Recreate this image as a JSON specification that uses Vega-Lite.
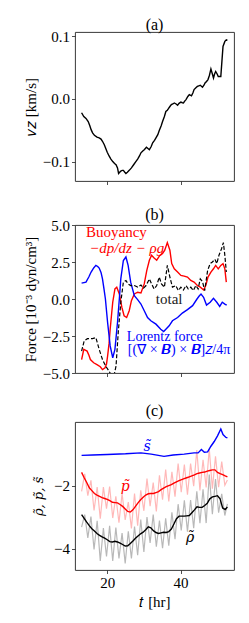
{
"$schema": "https://vega.github.io/schema/vega-lite/v6.json",
"padding": {"left": 22, "top": 16, "right": 4, "bottom": 4},
"spacing": 20,
"config": {
  "font": "Liberation Serif",
  "view": {"stroke": "#222222", "strokeWidth": 0.9},
  "axis": {"domain": false, "grid": false, "tickColor": "#222222", "tickSize": 3.5, "tickWidth": 0.8, "labelColor": "black", "labelFontSize": 15, "labelFont": "Liberation Serif", "titleFont": "Liberation Serif", "titleFontSize": 15, "titleFontWeight": "normal", "titleColor": "black", "labelPadding": 2, "titlePadding": 4},
  "title": {"font": "Liberation Serif", "fontSize": 16, "fontWeight": "normal", "color": "black", "offset": 0, "frame": "group"}
},
"datasets": {
  "vz": [
    {"t":13.0,"v":-0.022},{"t":13.6,"v":-0.028},{"t":14.2,"v":-0.031},{"t":14.8,"v":-0.036},{"t":15.2,"v":-0.042},{"t":15.6,"v":-0.049},{"t":16.0,"v":-0.054},{"t":16.5,"v":-0.058},{"t":17.2,"v":-0.061},{"t":17.8,"v":-0.062},{"t":18.3,"v":-0.064},{"t":18.7,"v":-0.0675},{"t":19.2,"v":-0.073},{"t":19.6,"v":-0.079},{"t":20.0,"v":-0.085},{"t":20.5,"v":-0.091},{"t":21.0,"v":-0.096},{"t":21.5,"v":-0.100},{"t":22.0,"v":-0.103},{"t":22.4,"v":-0.105},{"t":22.8,"v":-0.110},{"t":23.1,"v":-0.119},{"t":23.4,"v":-0.117},{"t":23.7,"v":-0.115},{"t":24.1,"v":-0.114},{"t":24.4,"v":-0.114},{"t":24.8,"v":-0.117},{"t":25.1,"v":-0.119},{"t":25.5,"v":-0.117},{"t":26.0,"v":-0.114},{"t":26.6,"v":-0.110},{"t":27.2,"v":-0.105},{"t":27.8,"v":-0.100},{"t":28.3,"v":-0.096},{"t":28.8,"v":-0.091},{"t":29.2,"v":-0.086},{"t":29.7,"v":-0.083},{"t":30.1,"v":-0.081},{"t":30.7,"v":-0.077},{"t":31.1,"v":-0.079},{"t":31.5,"v":-0.081},{"t":32.0,"v":-0.076},{"t":32.4,"v":-0.070},{"t":32.9,"v":-0.066},{"t":33.3,"v":-0.062},{"t":33.8,"v":-0.057},{"t":34.2,"v":-0.0505},{"t":34.7,"v":-0.043},{"t":35.1,"v":-0.036},{"t":35.6,"v":-0.028},{"t":36.0,"v":-0.020},{"t":36.4,"v":-0.018},{"t":36.7,"v":-0.0155},{"t":37.1,"v":-0.012},{"t":37.5,"v":-0.009},{"t":37.9,"v":-0.008},{"t":38.3,"v":-0.0064},{"t":38.8,"v":-0.008},{"t":39.2,"v":-0.010},{"t":39.6,"v":-0.007},{"t":40.1,"v":-0.005},{"t":40.5,"v":-0.006},{"t":40.8,"v":-0.0064},{"t":41.2,"v":-0.003},{"t":41.5,"v":-0.001},{"t":42.0,"v":0.004},{"t":42.4,"v":0.007},{"t":43.0,"v":0.005},{"t":43.4,"v":0.010},{"t":43.7,"v":0.015},{"t":44.2,"v":0.018},{"t":44.6,"v":0.020},{"t":45.0,"v":0.021},{"t":45.4,"v":0.022},{"t":46.0,"v":0.0187},{"t":46.4,"v":0.022},{"t":46.7,"v":0.0255},{"t":47.1,"v":0.028},{"t":47.5,"v":0.031},{"t":47.9,"v":0.038},{"t":48.3,"v":0.048},{"t":48.7,"v":0.040},{"t":49.0,"v":0.0335},{"t":49.3,"v":0.040},{"t":49.6,"v":0.044},{"t":50.0,"v":0.040},{"t":50.3,"v":0.036},{"t":50.7,"v":0.036},{"t":51.0,"v":0.036},{"t":51.3,"v":0.060},{"t":51.6,"v":0.084},{"t":52.1,"v":0.092},{"t":52.5,"v":0.0946},{"t":52.8,"v":0.0936}
  ],
  "force": [
    {"t":13.0,"F":-4.09,"s":"buoyancy"},{"t":13.6,"F":-3.4,"s":"buoyancy"},{"t":14.0,"F":-3.45,"s":"buoyancy"},{"t":14.5,"F":-3.52,"s":"buoyancy"},{"t":15.0,"F":-3.8,"s":"buoyancy"},{"t":15.4,"F":-4.09,"s":"buoyancy"},{"t":16.3,"F":-4.31,"s":"buoyancy"},{"t":17.2,"F":-4.43,"s":"buoyancy"},{"t":18.1,"F":-4.58,"s":"buoyancy"},{"t":18.7,"F":-4.77,"s":"buoyancy"},{"t":19.4,"F":-4.65,"s":"buoyancy"},{"t":19.8,"F":-4.4,"s":"buoyancy"},{"t":20.1,"F":-3.85,"s":"buoyancy"},{"t":20.5,"F":-3.0,"s":"buoyancy"},{"t":20.8,"F":-2.04,"s":"buoyancy"},{"t":21.2,"F":-1.0,"s":"buoyancy"},{"t":21.5,"F":-0.22,"s":"buoyancy"},{"t":22.1,"F":0.68,"s":"buoyancy"},{"t":22.6,"F":0.8,"s":"buoyancy"},{"t":23.3,"F":0.34,"s":"buoyancy"},{"t":24.0,"F":-0.57,"s":"buoyancy"},{"t":24.6,"F":-1.13,"s":"buoyancy"},{"t":25.3,"F":-1.25,"s":"buoyancy"},{"t":26.0,"F":-0.79,"s":"buoyancy"},{"t":26.6,"F":-0.11,"s":"buoyancy"},{"t":27.4,"F":0.34,"s":"buoyancy"},{"t":28.3,"F":0.46,"s":"buoyancy"},{"t":29.2,"F":0.41,"s":"buoyancy"},{"t":30.1,"F":1.02,"s":"buoyancy"},{"t":30.8,"F":1.93,"s":"buoyancy"},{"t":31.5,"F":2.62,"s":"buoyancy"},{"t":32.1,"F":2.96,"s":"buoyancy"},{"t":32.8,"F":2.77,"s":"buoyancy"},{"t":33.5,"F":2.62,"s":"buoyancy"},{"t":34.4,"F":2.96,"s":"buoyancy"},{"t":35.1,"F":3.07,"s":"buoyancy"},{"t":35.7,"F":3.3,"s":"buoyancy"},{"t":36.4,"F":3.81,"s":"buoyancy"},{"t":37.1,"F":3.3,"s":"buoyancy"},{"t":37.6,"F":2.39,"s":"buoyancy"},{"t":38.3,"F":2.04,"s":"buoyancy"},{"t":39.2,"F":1.82,"s":"buoyancy"},{"t":40.1,"F":1.59,"s":"buoyancy"},{"t":41.0,"F":1.55,"s":"buoyancy"},{"t":41.9,"F":1.48,"s":"buoyancy"},{"t":42.8,"F":1.25,"s":"buoyancy"},{"t":43.7,"F":1.14,"s":"buoyancy"},{"t":44.6,"F":0.91,"s":"buoyancy"},{"t":45.4,"F":0.8,"s":"buoyancy"},{"t":46.3,"F":0.61,"s":"buoyancy"},{"t":46.9,"F":0.91,"s":"buoyancy"},{"t":47.5,"F":1.48,"s":"buoyancy"},{"t":48.3,"F":1.82,"s":"buoyancy"},{"t":49.0,"F":2.04,"s":"buoyancy"},{"t":49.6,"F":2.27,"s":"buoyancy"},{"t":50.3,"F":2.04,"s":"buoyancy"},{"t":51.0,"F":2.27,"s":"buoyancy"},{"t":51.6,"F":2.39,"s":"buoyancy"},{"t":52.1,"F":2.04,"s":"buoyancy"},{"t":52.5,"F":1.14,"s":"buoyancy"},
    {"t":13.0,"F":1.07,"s":"lorentz"},{"t":14.2,"F":1.14,"s":"lorentz"},{"t":15.0,"F":1.5,"s":"lorentz"},{"t":15.6,"F":1.82,"s":"lorentz"},{"t":16.3,"F":2.1,"s":"lorentz"},{"t":16.9,"F":2.27,"s":"lorentz"},{"t":17.4,"F":2.2,"s":"lorentz"},{"t":17.8,"F":2.09,"s":"lorentz"},{"t":18.3,"F":1.8,"s":"lorentz"},{"t":18.7,"F":1.36,"s":"lorentz"},{"t":19.1,"F":0.7,"s":"lorentz"},{"t":19.5,"F":0.0,"s":"lorentz"},{"t":20.1,"F":-1.59,"s":"lorentz"},{"t":20.8,"F":-3.17,"s":"lorentz"},{"t":21.5,"F":-3.97,"s":"lorentz"},{"t":22.1,"F":-3.4,"s":"lorentz"},{"t":22.8,"F":-1.59,"s":"lorentz"},{"t":23.3,"F":0.0,"s":"lorentz"},{"t":23.7,"F":1.36,"s":"lorentz"},{"t":24.4,"F":2.6,"s":"lorentz"},{"t":25.1,"F":2.84,"s":"lorentz"},{"t":25.7,"F":2.27,"s":"lorentz"},{"t":26.4,"F":1.14,"s":"lorentz"},{"t":27.4,"F":0.23,"s":"lorentz"},{"t":28.3,"F":-0.04,"s":"lorentz"},{"t":29.2,"F":-0.34,"s":"lorentz"},{"t":30.1,"F":-0.79,"s":"lorentz"},{"t":31.0,"F":-1.25,"s":"lorentz"},{"t":31.9,"F":-1.47,"s":"lorentz"},{"t":33.3,"F":-1.7,"s":"lorentz"},{"t":34.6,"F":-2.04,"s":"lorentz"},{"t":35.4,"F":-2.2,"s":"lorentz"},{"t":36.0,"F":-2.04,"s":"lorentz"},{"t":36.9,"F":-1.81,"s":"lorentz"},{"t":37.8,"F":-1.47,"s":"lorentz"},{"t":39.2,"F":-1.25,"s":"lorentz"},{"t":40.5,"F":-0.95,"s":"lorentz"},{"t":41.9,"F":-0.72,"s":"lorentz"},{"t":43.3,"F":-0.45,"s":"lorentz"},{"t":44.5,"F":0.0,"s":"lorentz"},{"t":45.1,"F":0.2,"s":"lorentz"},{"t":45.6,"F":0.34,"s":"lorentz"},{"t":46.3,"F":0.12,"s":"lorentz"},{"t":47.1,"F":-0.41,"s":"lorentz"},{"t":48.1,"F":-0.22,"s":"lorentz"},{"t":49.0,"F":0.05,"s":"lorentz"},{"t":49.9,"F":-0.22,"s":"lorentz"},{"t":50.7,"F":-0.5,"s":"lorentz"},{"t":51.4,"F":-0.22,"s":"lorentz"},{"t":52.1,"F":-0.34,"s":"lorentz"},{"t":52.6,"F":-0.41,"s":"lorentz"},
    {"t":13.0,"F":-3.52,"s":"total"},{"t":13.7,"F":-2.84,"s":"total"},{"t":14.6,"F":-2.68,"s":"total"},{"t":16.0,"F":-2.68,"s":"total"},{"t":16.9,"F":-2.61,"s":"total"},{"t":17.8,"F":-3.4,"s":"total"},{"t":18.7,"F":-4.09,"s":"total"},{"t":19.6,"F":-4.54,"s":"total"},{"t":20.5,"F":-4.88,"s":"total"},{"t":21.0,"F":-5.1,"s":"total"},{"t":21.5,"F":-5.2,"s":"total"},{"t":21.9,"F":-5.1,"s":"total"},{"t":22.4,"F":-4.54,"s":"total"},{"t":23.0,"F":-2.27,"s":"total"},{"t":23.7,"F":-0.22,"s":"total"},{"t":24.4,"F":1.14,"s":"total"},{"t":25.1,"F":1.25,"s":"total"},{"t":25.7,"F":1.02,"s":"total"},{"t":26.4,"F":0.91,"s":"total"},{"t":27.4,"F":0.91,"s":"total"},{"t":28.3,"F":0.8,"s":"total"},{"t":29.2,"F":0.95,"s":"total"},{"t":29.9,"F":0.73,"s":"total"},{"t":30.6,"F":0.91,"s":"total"},{"t":31.5,"F":1.36,"s":"total"},{"t":32.1,"F":1.02,"s":"total"},{"t":32.8,"F":0.68,"s":"total"},{"t":33.5,"F":0.91,"s":"total"},{"t":34.2,"F":1.48,"s":"total"},{"t":34.8,"F":1.02,"s":"total"},{"t":35.6,"F":0.8,"s":"total"},{"t":36.4,"F":2.27,"s":"total"},{"t":37.1,"F":1.48,"s":"total"},{"t":37.8,"F":0.8,"s":"total"},{"t":38.7,"F":0.91,"s":"total"},{"t":39.4,"F":0.57,"s":"total"},{"t":40.1,"F":0.8,"s":"total"},{"t":40.8,"F":0.61,"s":"total"},{"t":41.5,"F":0.91,"s":"total"},{"t":42.1,"F":0.68,"s":"total"},{"t":42.8,"F":0.8,"s":"total"},{"t":43.5,"F":0.57,"s":"total"},{"t":44.2,"F":0.91,"s":"total"},{"t":44.8,"F":0.68,"s":"total"},{"t":45.4,"F":1.36,"s":"total"},{"t":46.0,"F":1.18,"s":"total"},{"t":46.6,"F":0.57,"s":"total"},{"t":47.4,"F":1.93,"s":"total"},{"t":48.1,"F":2.39,"s":"total"},{"t":48.7,"F":2.5,"s":"total"},{"t":49.4,"F":2.68,"s":"total"},{"t":49.9,"F":2.39,"s":"total"},{"t":50.5,"F":2.96,"s":"total"},{"t":51.2,"F":3.4,"s":"total"},{"t":51.7,"F":3.81,"s":"total"},{"t":52.1,"F":2.96,"s":"total"},{"t":52.5,"F":1.82,"s":"total"}
  ],
  "forceLabels": [
    {"t":22.5,"F":4.5,"label":"Buoyancy"},
    {"t":25.3,"F":3.45,"label":"−dp/dz − ρg"},
    {"t":36.9,"F":0.0,"label":"total"},
    {"t":35.7,"F":-2.54,"label":"Lorentz force"},
    {"t":39.6,"F":-3.47,"label":"[(∇ × 𝑩) × 𝑩]𝑧/4π"}
  ],
  "profileLabels": [
    {"t":30.9,"v":-0.76,"label":"s̃"},
    {"t":24.9,"v":-2.06,"label":"p̃"},
    {"t":42.6,"v":-3.65,"label":"ρ̃"}
  ],
  "profiles": [
    {"t":13.0,"v":-1.04,"s":"s"},{"t":16.0,"v":-1.03,"s":"s"},{"t":20.0,"v":-1.01,"s":"s"},{"t":25.0,"v":-0.99,"s":"s"},{"t":29.2,"v":-0.96,"s":"s"},{"t":32.0,"v":-1.0,"s":"s"},{"t":35.5,"v":-1.07,"s":"s"},{"t":38.0,"v":-1.03,"s":"s"},{"t":41.0,"v":-1.0,"s":"s"},{"t":43.7,"v":-0.96,"s":"s"},{"t":44.8,"v":-0.96,"s":"s"},{"t":45.7,"v":-0.85,"s":"s"},{"t":46.5,"v":-0.94,"s":"s"},{"t":47.4,"v":-0.93,"s":"s"},{"t":48.3,"v":-0.75,"s":"s"},{"t":49.2,"v":-0.6,"s":"s"},{"t":50.1,"v":-0.42,"s":"s"},{"t":51.0,"v":-0.2,"s":"s"},{"t":51.6,"v":-0.38,"s":"s"},{"t":52.4,"v":-0.47,"s":"s"},{"t":52.8,"v":-0.48,"s":"s"},
    {"t":13.0,"v":-2.18,"s":"p_raw"},{"t":13.85,"v":-1.63,"s":"p_raw"},{"t":14.7,"v":-2.32,"s":"p_raw"},{"t":15.55,"v":-1.83,"s":"p_raw"},{"t":16.4,"v":-2.79,"s":"p_raw"},{"t":17.25,"v":-2.05,"s":"p_raw"},{"t":18.1,"v":-3.05,"s":"p_raw"},{"t":18.95,"v":-2.05,"s":"p_raw"},{"t":19.8,"v":-2.73,"s":"p_raw"},{"t":20.65,"v":-2.03,"s":"p_raw"},{"t":21.5,"v":-3.03,"s":"p_raw"},{"t":22.35,"v":-2.34,"s":"p_raw"},{"t":23.2,"v":-3.18,"s":"p_raw"},{"t":24.05,"v":-2.25,"s":"p_raw"},{"t":24.9,"v":-3.09,"s":"p_raw"},{"t":25.75,"v":-2.52,"s":"p_raw"},{"t":26.6,"v":-3.36,"s":"p_raw"},{"t":27.45,"v":-2.25,"s":"p_raw"},{"t":28.3,"v":-3.27,"s":"p_raw"},{"t":29.15,"v":-2.15,"s":"p_raw"},{"t":30.0,"v":-2.80,"s":"p_raw"},{"t":30.85,"v":-1.78,"s":"p_raw"},{"t":31.7,"v":-2.65,"s":"p_raw"},{"t":32.55,"v":-1.90,"s":"p_raw"},{"t":33.4,"v":-2.82,"s":"p_raw"},{"t":34.25,"v":-1.67,"s":"p_raw"},{"t":35.1,"v":-2.45,"s":"p_raw"},{"t":35.95,"v":-1.49,"s":"p_raw"},{"t":36.8,"v":-2.50,"s":"p_raw"},{"t":37.65,"v":-1.56,"s":"p_raw"},{"t":38.5,"v":-2.35,"s":"p_raw"},{"t":39.35,"v":-1.30,"s":"p_raw"},{"t":40.2,"v":-2.21,"s":"p_raw"},{"t":41.05,"v":-1.33,"s":"p_raw"},{"t":41.9,"v":-2.29,"s":"p_raw"},{"t":42.75,"v":-1.30,"s":"p_raw"},{"t":43.6,"v":-2.02,"s":"p_raw"},{"t":44.45,"v":-0.87,"s":"p_raw"},{"t":45.3,"v":-2.15,"s":"p_raw"},{"t":46.15,"v":-1.18,"s":"p_raw"},{"t":47.0,"v":-2.06,"s":"p_raw"},{"t":47.85,"v":-0.83,"s":"p_raw"},{"t":48.7,"v":-2.10,"s":"p_raw"},{"t":49.55,"v":-1.07,"s":"p_raw"},{"t":50.4,"v":-2.05,"s":"p_raw"},{"t":51.25,"v":-1.24,"s":"p_raw"},{"t":52.1,"v":-1.99,"s":"p_raw"},{"t":52.8,"v":-1.82,"s":"p_raw"},
    {"t":13.0,"v":-3.32,"s":"rho_raw"},{"t":13.85,"v":-2.92,"s":"rho_raw"},{"t":14.7,"v":-3.66,"s":"rho_raw"},{"t":15.55,"v":-2.98,"s":"rho_raw"},{"t":16.4,"v":-4.03,"s":"rho_raw"},{"t":17.25,"v":-3.12,"s":"rho_raw"},{"t":18.1,"v":-4.39,"s":"rho_raw"},{"t":18.95,"v":-3.35,"s":"rho_raw"},{"t":19.8,"v":-4.25,"s":"rho_raw"},{"t":20.65,"v":-3.28,"s":"rho_raw"},{"t":21.5,"v":-4.39,"s":"rho_raw"},{"t":22.35,"v":-3.33,"s":"rho_raw"},{"t":23.2,"v":-4.31,"s":"rho_raw"},{"t":24.05,"v":-3.51,"s":"rho_raw"},{"t":24.9,"v":-4.47,"s":"rho_raw"},{"t":25.75,"v":-3.45,"s":"rho_raw"},{"t":26.6,"v":-4.31,"s":"rho_raw"},{"t":27.45,"v":-3.30,"s":"rho_raw"},{"t":28.3,"v":-4.21,"s":"rho_raw"},{"t":29.15,"v":-3.08,"s":"rho_raw"},{"t":30.0,"v":-4.11,"s":"rho_raw"},{"t":30.85,"v":-3.00,"s":"rho_raw"},{"t":31.7,"v":-3.82,"s":"rho_raw"},{"t":32.55,"v":-2.92,"s":"rho_raw"},{"t":33.4,"v":-3.94,"s":"rho_raw"},{"t":34.25,"v":-3.11,"s":"rho_raw"},{"t":35.1,"v":-3.99,"s":"rho_raw"},{"t":35.95,"v":-3.04,"s":"rho_raw"},{"t":36.8,"v":-3.91,"s":"rho_raw"},{"t":37.65,"v":-2.85,"s":"rho_raw"},{"t":38.5,"v":-3.70,"s":"rho_raw"},{"t":39.35,"v":-2.59,"s":"rho_raw"},{"t":40.2,"v":-3.42,"s":"rho_raw"},{"t":41.05,"v":-2.47,"s":"rho_raw"},{"t":41.9,"v":-3.46,"s":"rho_raw"},{"t":42.75,"v":-2.46,"s":"rho_raw"},{"t":43.6,"v":-3.35,"s":"rho_raw"},{"t":44.45,"v":-2.18,"s":"rho_raw"},{"t":45.3,"v":-3.19,"s":"rho_raw"},{"t":46.15,"v":-2.12,"s":"rho_raw"},{"t":47.0,"v":-3.19,"s":"rho_raw"},{"t":47.85,"v":-1.65,"s":"rho_raw"},{"t":48.7,"v":-2.91,"s":"rho_raw"},{"t":49.55,"v":-1.79,"s":"rho_raw"},{"t":50.4,"v":-2.86,"s":"rho_raw"},{"t":51.25,"v":-2.26,"s":"rho_raw"},{"t":52.1,"v":-2.95,"s":"rho_raw"},{"t":52.8,"v":-2.58,"s":"rho_raw"},
    {"t":13.0,"v":-1.58,"s":"p"},{"t":13.7,"v":-1.75,"s":"p"},{"t":14.4,"v":-1.9,"s":"p"},{"t":15.1,"v":-2.07,"s":"p"},{"t":15.8,"v":-2.16,"s":"p"},{"t":16.5,"v":-2.25,"s":"p"},{"t":17.2,"v":-2.3,"s":"p"},{"t":17.9,"v":-2.34,"s":"p"},{"t":18.6,"v":-2.38,"s":"p"},{"t":19.3,"v":-2.41,"s":"p"},{"t":20.0,"v":-2.44,"s":"p"},{"t":20.7,"v":-2.48,"s":"p"},{"t":21.4,"v":-2.53,"s":"p"},{"t":22.1,"v":-2.54,"s":"p"},{"t":22.8,"v":-2.55,"s":"p"},{"t":23.5,"v":-2.6,"s":"p"},{"t":24.2,"v":-2.66,"s":"p"},{"t":24.9,"v":-2.74,"s":"p"},{"t":25.6,"v":-2.82,"s":"p"},{"t":26.3,"v":-2.84,"s":"p"},{"t":27.0,"v":-2.77,"s":"p"},{"t":27.7,"v":-2.66,"s":"p"},{"t":28.4,"v":-2.55,"s":"p"},{"t":29.1,"v":-2.45,"s":"p"},{"t":29.8,"v":-2.37,"s":"p"},{"t":30.5,"v":-2.3,"s":"p"},{"t":31.2,"v":-2.26,"s":"p"},{"t":31.9,"v":-2.25,"s":"p"},{"t":32.6,"v":-2.25,"s":"p"},{"t":33.3,"v":-2.22,"s":"p"},{"t":34.0,"v":-2.19,"s":"p"},{"t":34.7,"v":-2.13,"s":"p"},{"t":35.4,"v":-2.08,"s":"p"},{"t":36.1,"v":-2.03,"s":"p"},{"t":36.8,"v":-2.0,"s":"p"},{"t":37.5,"v":-1.97,"s":"p"},{"t":38.2,"v":-1.92,"s":"p"},{"t":38.9,"v":-1.88,"s":"p"},{"t":39.6,"v":-1.84,"s":"p"},{"t":40.3,"v":-1.81,"s":"p"},{"t":41.0,"v":-1.78,"s":"p"},{"t":41.7,"v":-1.75,"s":"p"},{"t":42.4,"v":-1.72,"s":"p"},{"t":43.1,"v":-1.69,"s":"p"},{"t":43.8,"v":-1.66,"s":"p"},{"t":44.5,"v":-1.62,"s":"p"},{"t":45.2,"v":-1.6,"s":"p"},{"t":45.9,"v":-1.58,"s":"p"},{"t":46.6,"v":-1.57,"s":"p"},{"t":47.3,"v":-1.54,"s":"p"},{"t":48.0,"v":-1.52,"s":"p"},{"t":48.7,"v":-1.5,"s":"p"},{"t":49.4,"v":-1.5,"s":"p"},{"t":50.1,"v":-1.58,"s":"p"},{"t":50.8,"v":-1.62,"s":"p"},{"t":51.5,"v":-1.65,"s":"p"},{"t":52.2,"v":-1.69,"s":"p"},{"t":52.8,"v":-1.72,"s":"p"},
    {"t":13.0,"v":-2.92,"s":"rho"},{"t":13.7,"v":-3.04,"s":"rho"},{"t":14.4,"v":-3.16,"s":"rho"},{"t":15.1,"v":-3.27,"s":"rho"},{"t":15.8,"v":-3.37,"s":"rho"},{"t":16.5,"v":-3.44,"s":"rho"},{"t":17.2,"v":-3.52,"s":"rho"},{"t":17.9,"v":-3.58,"s":"rho"},{"t":18.6,"v":-3.63,"s":"rho"},{"t":19.3,"v":-3.67,"s":"rho"},{"t":20.0,"v":-3.72,"s":"rho"},{"t":20.7,"v":-3.78,"s":"rho"},{"t":21.4,"v":-3.79,"s":"rho"},{"t":22.1,"v":-3.77,"s":"rho"},{"t":22.8,"v":-3.79,"s":"rho"},{"t":23.5,"v":-3.83,"s":"rho"},{"t":24.2,"v":-3.87,"s":"rho"},{"t":24.9,"v":-3.92,"s":"rho"},{"t":25.6,"v":-3.91,"s":"rho"},{"t":26.3,"v":-3.84,"s":"rho"},{"t":27.0,"v":-3.76,"s":"rho"},{"t":27.7,"v":-3.67,"s":"rho"},{"t":28.4,"v":-3.6,"s":"rho"},{"t":29.1,"v":-3.53,"s":"rho"},{"t":29.8,"v":-3.48,"s":"rho"},{"t":30.5,"v":-3.4,"s":"rho"},{"t":31.2,"v":-3.31,"s":"rho"},{"t":31.9,"v":-3.34,"s":"rho"},{"t":32.6,"v":-3.43,"s":"rho"},{"t":33.3,"v":-3.49,"s":"rho"},{"t":34.0,"v":-3.52,"s":"rho"},{"t":34.7,"v":-3.5,"s":"rho"},{"t":35.4,"v":-3.48,"s":"rho"},{"t":36.1,"v":-3.49,"s":"rho"},{"t":36.8,"v":-3.46,"s":"rho"},{"t":37.5,"v":-3.38,"s":"rho"},{"t":38.2,"v":-3.22,"s":"rho"},{"t":38.9,"v":-3.05,"s":"rho"},{"t":39.6,"v":-2.97,"s":"rho"},{"t":40.3,"v":-2.97,"s":"rho"},{"t":41.0,"v":-2.97,"s":"rho"},{"t":41.7,"v":-2.96,"s":"rho"},{"t":42.4,"v":-2.95,"s":"rho"},{"t":43.1,"v":-2.86,"s":"rho"},{"t":43.8,"v":-2.77,"s":"rho"},{"t":44.5,"v":-2.67,"s":"rho"},{"t":45.2,"v":-2.69,"s":"rho"},{"t":45.9,"v":-2.69,"s":"rho"},{"t":46.6,"v":-2.63,"s":"rho"},{"t":47.3,"v":-2.56,"s":"rho"},{"t":48.0,"v":-2.42,"s":"rho"},{"t":48.7,"v":-2.36,"s":"rho"},{"t":49.4,"v":-2.34,"s":"rho"},{"t":50.1,"v":-2.32,"s":"rho"},{"t":50.8,"v":-2.42,"s":"rho"},{"t":51.5,"v":-2.71,"s":"rho"},{"t":52.2,"v":-2.76,"s":"rho"},{"t":52.8,"v":-2.68,"s":"rho"}
  ]
},
"vconcat": [
  {
    "title": {"text": "(a)", "offset": -4},
    "width": 159, "height": 149,
    "data": {"name": "vz"},
    "mark": {"type": "line", "color": "black", "strokeWidth": 1.4},
    "encoding": {
      "x": {"field": "t", "type": "quantitative", "scale": {"domain": [11.2, 54.6], "nice": false, "zero": false}, "axis": {"values": [20, 40], "labels": false, "title": null}},
      "y": {"field": "v", "type": "quantitative", "scale": {"domain": [-0.131, 0.107], "nice": false, "zero": false}, "axis": {"values": [-0.1, 0, 0.1], "format": ".1f", "title": "𝑣𝑧 [km/s]"}}
    }
  },
  {
    "title": {"text": "(b)", "offset": -4.5},
    "width": 159, "height": 148,
    "encoding": {
      "x": {"field": "t", "type": "quantitative", "scale": {"domain": [11.2, 54.6], "nice": false, "zero": false}, "axis": {"values": [20, 40], "labels": false, "title": null}},
      "y": {"field": "F", "type": "quantitative", "scale": {"domain": [-5, 5], "nice": false, "zero": false}, "axis": {"values": [-5, -2.5, 0, 2.5, 5], "format": ".1f", "title": "Force [10⁻³ dyn/cm³]"}}
    },
    "layer": [
      {"data": {"name": "force"}, "transform": [{"filter": "datum.s === 'buoyancy'"}], "mark": {"type": "line", "color": "red", "strokeWidth": 1.4, "clip": true}},
      {"data": {"name": "force"}, "transform": [{"filter": "datum.s === 'lorentz'"}], "mark": {"type": "line", "color": "blue", "strokeWidth": 1.4, "clip": true}},
      {"data": {"name": "force"}, "transform": [{"filter": "datum.s === 'total'"}], "mark": {"type": "line", "color": "black", "strokeWidth": 1.2, "strokeDash": [4, 2], "clip": true}},
      {"data": {"name": "forceLabels"}, "transform": [{"filter": "datum.label === 'Buoyancy'"}], "mark": {"type": "text", "color": "red", "fontSize": 15, "align": "center", "baseline": "middle"}, "encoding": {"text": {"field": "label"}}},
      {"data": {"name": "forceLabels"}, "transform": [{"filter": "datum.label === '−dp/dz − ρg'"}], "mark": {"type": "text", "color": "red", "fontSize": 15, "fontStyle": "italic", "align": "center", "baseline": "middle"}, "encoding": {"text": {"field": "label"}}},
      {"data": {"name": "forceLabels"}, "transform": [{"filter": "datum.label === 'total'"}], "mark": {"type": "text", "color": "#222222", "fontSize": 15, "align": "center", "baseline": "middle"}, "encoding": {"text": {"field": "label"}}},
      {"data": {"name": "forceLabels"}, "transform": [{"filter": "datum.label !== 'Buoyancy' && datum.label !== 'total' && datum.label !== '−dp/dz − ρg'"}], "mark": {"type": "text", "color": "blue", "fontSize": 14, "align": "center", "baseline": "middle"}, "encoding": {"text": {"field": "label"}}}
    ]
  },
  {
    "title": {"text": "(c)", "offset": 3},
    "width": 159, "height": 148,
    "encoding": {
      "x": {"field": "t", "type": "quantitative", "scale": {"domain": [11.2, 54.6], "nice": false, "zero": false}, "axis": {"values": [20, 40], "format": "d", "title": "𝑡 [hr]"}},
      "y": {"field": "v", "type": "quantitative", "scale": {"domain": [-4.68, 0.02], "nice": false, "zero": false}, "axis": {"values": [-4, -2], "format": "d", "title": "ρ̃, p̃, s̃", "titleFont": "DejaVu Serif", "titleFontSize": 13, "titleFontStyle": "italic", "titlePadding": 8}}
    },
    "layer": [
      {"data": {"name": "profiles"}, "transform": [{"filter": "datum.s === 'p_raw'"}], "mark": {"type": "line", "color": "red", "opacity": 0.28, "strokeWidth": 1.2}},
      {"data": {"name": "profiles"}, "transform": [{"filter": "datum.s === 'rho_raw'"}], "mark": {"type": "line", "color": "black", "opacity": 0.28, "strokeWidth": 1.2}},
      {"data": {"name": "profiles"}, "transform": [{"filter": "datum.s === 's'"}], "mark": {"type": "line", "color": "blue", "strokeWidth": 1.4}},
      {"data": {"name": "profiles"}, "transform": [{"filter": "datum.s === 'p'"}], "mark": {"type": "line", "color": "red", "strokeWidth": 1.4}},
      {"data": {"name": "profiles"}, "transform": [{"filter": "datum.s === 'rho'"}], "mark": {"type": "line", "color": "black", "strokeWidth": 1.4}},
      {"data": {"name": "profileLabels"}, "transform": [{"filter": "datum.label === 's̃'"}], "mark": {"type": "text", "color": "blue", "font": "DejaVu Serif", "fontSize": 14, "fontStyle": "italic", "align": "center", "baseline": "middle"}, "encoding": {"text": {"field": "label"}}},
      {"data": {"name": "profileLabels"}, "transform": [{"filter": "datum.label === 'p̃'"}], "mark": {"type": "text", "color": "red", "font": "DejaVu Serif", "fontSize": 14, "fontStyle": "italic", "align": "center", "baseline": "middle"}, "encoding": {"text": {"field": "label"}}},
      {"data": {"name": "profileLabels"}, "transform": [{"filter": "datum.label === 'ρ̃'"}], "mark": {"type": "text", "color": "black", "font": "DejaVu Serif", "fontSize": 14, "fontStyle": "italic", "align": "center", "baseline": "middle"}, "encoding": {"text": {"field": "label"}}}
    ]
  }
]
}
